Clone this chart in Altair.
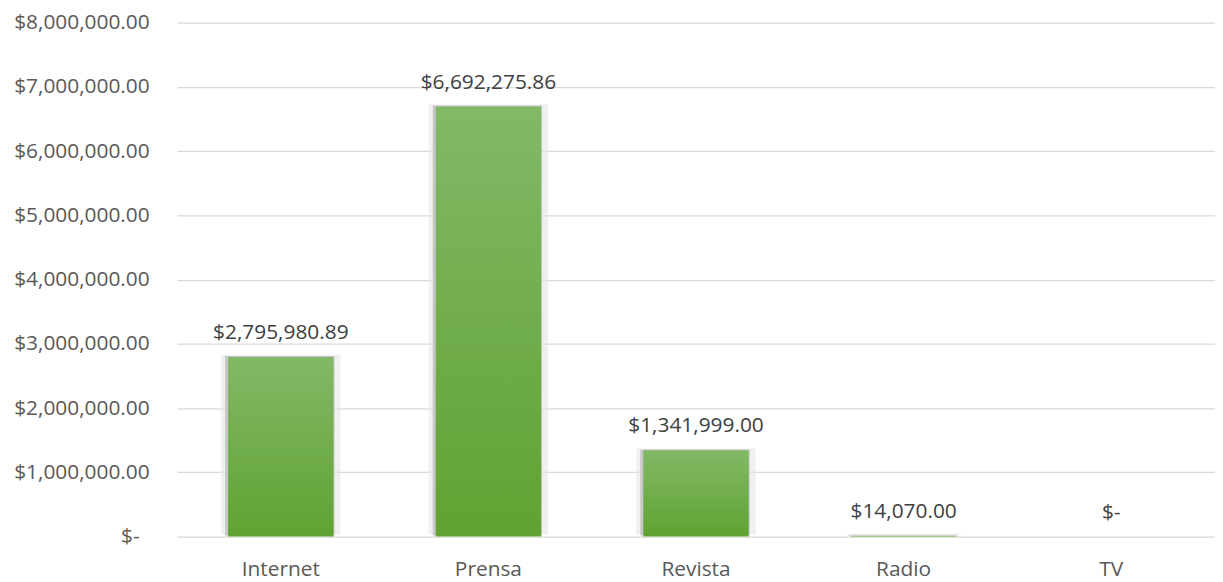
import altair as alt
import pandas as pd

categories = ["Internet", "Prensa", "Revista", "Radio", "TV"]
values = [2795980.89, 6692275.86, 1341999.00, 14070.00, 0.0]
y_ticks = [0, 1000000, 2000000, 3000000, 4000000, 5000000, 6000000, 7000000, 8000000]


def fmt(v):
    return "$-" if v == 0 else "${:,.2f}".format(v)


df = pd.DataFrame({
    "cat": categories,
    "val": values,
    "label": [fmt(v) for v in values],
})

FONT = "Open Sans"
TXT = "#595959"
FS = 21

x_enc = alt.X("cat:N", sort=categories, title=None,
              scale=alt.Scale(paddingInner=0, paddingOuter=0),
              axis=alt.Axis(labelAngle=0, labelFont=FONT, labelFontSize=FS,
                            labelColor=TXT, ticks=False, domain=False,
                            labelPadding=22, grid=False))
y_enc = alt.Y("val:Q", title=None,
              scale=alt.Scale(domain=[0, 8000000], nice=False),
              axis=alt.Axis(values=y_ticks, labelFont=FONT, labelFontSize=FS,
                            labelColor=TXT, ticks=False, domain=False,
                            labelPadding={"condition": {"test": "datum.value == 0", "value": 38}, "value": 28},
                            gridColor="#d9d9d9", gridWidth=1.3,
                            labelExpr="datum.value == 0 ? '$-' : format(datum.value, '$,.2f')"))

base = alt.Chart(df)

shadow_outer = base.mark_bar(width=120, color="#e6e6e6", opacity=0.6, yOffset=-2).encode(
    x=x_enc, y=y_enc
)
shadow_inner = base.mark_bar(width=110, color="#bdbdbd", opacity=0.8, xOffset=-1, yOffset=-1).encode(
    x=x_enc, y=y_enc
)

bars = base.mark_bar(
    width=106,
    color=alt.Gradient(
        gradient="linear",
        stops=[alt.GradientStop(color="#82b967", offset=0),
               alt.GradientStop(color="#60a232", offset=1)],
        x1=0, x2=0, y1=0, y2=1,
    ),
).encode(x=x_enc, y=y_enc)

labels = base.mark_text(font=FONT, fontSize=FS, color="#404040",
                        baseline="middle", dy=-24).encode(
    x=x_enc,
    y=y_enc,
    text="label:N",
)

chart = alt.layer(shadow_outer, shadow_inner, bars, labels).properties(
    width=1044, height=517,
    background="white",
    autosize=alt.AutoSizeParams(type="none"),
    padding={"left": 170, "top": 13, "right": 0, "bottom": 44},
).configure_view(stroke=None)

chart.save("out.html", embed_options={"renderer": "svg", "actions": False})
